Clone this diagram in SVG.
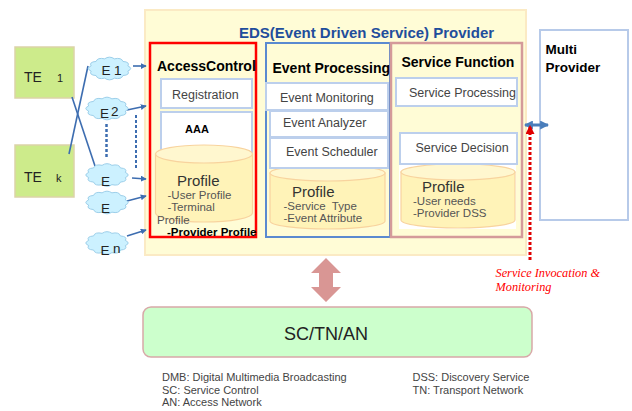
<svg xmlns="http://www.w3.org/2000/svg" width="632" height="411" viewBox="0 0 632 411">
  <defs>
    <style>
      .sans { font-family: "Liberation Sans", Arial, sans-serif; }
      .hd { font-family: "Liberation Sans", Arial, sans-serif; font-weight: bold; font-size: 14px; fill: #000; }
      .item { font-family: "Liberation Sans", Arial, sans-serif; font-size: 12.5px; fill: #444; }
      .prof { font-family: "Liberation Sans", Arial, sans-serif; font-size: 15px; fill: #333; }
      .sub { font-family: "Liberation Sans", Arial, sans-serif; font-size: 11.5px; fill: #555; }
      .inbox { fill: #fff; stroke: #BCCFEC; stroke-width: 2; }
      .cyl { fill: #FFF3B8; stroke: #F8D39E; stroke-width: 1.2; }
      .cyltop { fill: #FFF7CF; stroke: #F8D39E; stroke-width: 1.2; }
      .te { fill: #CDEB8B; stroke: #DCD3A8; stroke-width: 1.5; }
      .cloud { fill: #CCF1FF; stroke: #9CCFEA; stroke-width: 1; }
      .etxt { font-family: "Liberation Sans", Arial, sans-serif; font-size: 13.5px; fill: #222; }
      .conn { stroke: #3D6DB0; stroke-width: 1.6; fill: none; }
      .legend { font-family: "Liberation Sans", Arial, sans-serif; font-size: 11px; fill: #444; }
    </style>
    <marker id="ah" viewBox="0 0 8 8" refX="7" refY="4" markerWidth="6" markerHeight="6" markerUnits="userSpaceOnUse" orient="auto">
      <path d="M0,0 L8,4 L0,8 Z" fill="#3D6DB0"/>
    </marker>
    <marker id="ahb" viewBox="0 0 8 8" refX="7" refY="4" markerWidth="9" markerHeight="9" markerUnits="userSpaceOnUse" orient="auto-start-reverse">
      <path d="M0,0 L8,4 L0,8 Z" fill="#4A7EBB"/>
    </marker>
    <marker id="ahr" viewBox="0 0 8 8" refX="7" refY="4" markerWidth="9" markerHeight="9" markerUnits="userSpaceOnUse" orient="auto">
      <path d="M0,0 L8,4 L0,8 Z" fill="#E00000"/>
    </marker>
    <path id="cloudShape" class="cloud" d="M18.35,-2.59 Q24,0 18.35,2.59 Q20.78,6.5 13.43,7.07 Q12,11.26 4.92,9.66 Q0,13 -4.92,9.66 Q-12,11.26 -13.43,7.07 Q-20.78,6.5 -18.35,2.59 Q-24,0 -18.35,-2.59 Q-20.78,-6.5 -13.43,-7.07 Q-12,-11.26 -4.92,-9.66 Q0,-13 4.92,-9.66 Q12,-11.26 13.43,-7.07 Q20.78,-6.5 18.35,-2.59 Z"/>
  </defs>

  <rect width="632" height="411" fill="#fff"/>

  <!-- EDS provider container -->
  <g id="eds-provider">
    <rect x="145" y="10" width="381" height="245" fill="#FFFCD6" stroke="#FBEAC4" stroke-width="2"/>
    <text x="239" y="38" class="sans" font-size="15" font-weight="bold" fill="#1F4E9C">EDS(Event Driven Service) Provider</text>
  </g>

  <!-- Access Control -->
  <g id="access-control">
    <rect x="150" y="43" width="106" height="194" fill="#FFFCD6" stroke="#FF0000" stroke-width="2.5"/>
    <text x="157" y="71" class="hd">AccessControl</text>
    <rect x="161" y="79" width="91" height="29" class="inbox"/>
    <text x="172" y="99" class="item">Registration</text>
    <rect x="161" y="112" width="91" height="40" class="inbox"/>
    <text x="185" y="133" class="sans" font-size="11" font-weight="bold" fill="#000">AAA</text>
    <path d="M155.5,154 V213 A48.5,9 0 0 0 252.5,213 V154 Z" class="cyl"/>
    <ellipse cx="204" cy="154" rx="48.5" ry="9" class="cyltop"/>
    <text x="177" y="186" class="prof">Profile</text>
    <text x="167.5" y="199" class="sub">-User Profile</text>
    <text x="167.5" y="211" class="sub">-Terminal</text>
    <text x="157" y="224" class="sub">Profile</text>
    <text x="167" y="235.5" class="sans" font-size="11.5" font-weight="bold" fill="#000">-Provider Profile</text>
  </g>

  <!-- Event Processing -->
  <g id="event-processing">
    <rect x="266" y="43" width="124" height="194" fill="#FFFCD6" stroke="#5A8AD0" stroke-width="2"/>
    <text x="272.5" y="73" class="hd">Event Processing</text>
    <path d="M270,173 V221 A57.5,8 0 0 0 385,221 V173 Z" class="cyl"/>
    <ellipse cx="327.5" cy="173" rx="57.5" ry="8" class="cyltop"/>
    <rect x="266" y="83" width="122" height="27" class="inbox"/>
    <text x="280" y="102" class="item">Event Monitoring</text>
    <rect x="270" y="111" width="118" height="26" class="inbox"/>
    <text x="283" y="127" class="item">Event Analyzer</text>
    <rect x="270" y="138" width="118" height="30" class="inbox"/>
    <text x="286" y="156" class="item">Event Scheduler</text>
    <text x="292" y="197" class="prof">Profile</text>
    <text x="283.5" y="210" class="sub">-Service&#160; Type</text>
    <text x="283.5" y="222" class="sub">-Event Attribute</text>
  </g>

  <!-- Service Function -->
  <g id="service-function">
    <rect x="391" y="43" width="131" height="194" fill="#FFFCD6" stroke="#D49A9A" stroke-width="2.5"/>
    <text x="401.5" y="67" class="hd">Service Function</text>
    <rect x="399" y="165" width="117" height="64" fill="#fff"/>
    <path d="M401,172 V220 A57,8 0 0 0 515,220 V172 Z" class="cyl"/>
    <ellipse cx="458" cy="172" rx="57" ry="8" class="cyltop"/>
    <rect x="396" y="78" width="121" height="28" class="inbox"/>
    <text x="409" y="97" class="item">Service Processing</text>
    <rect x="400" y="133" width="117" height="31" class="inbox"/>
    <text x="415.5" y="151.5" class="item">Service Decision</text>
    <text x="422" y="192" class="prof">Profile</text>
    <text x="413" y="205" class="sub">-User needs</text>
    <text x="413" y="217" class="sub">-Provider DSS</text>
  </g>

  <!-- Multi Provider -->
  <g id="multi-provider">
    <rect x="540" y="30" width="88" height="190" fill="#fff" stroke="#B7CAE9" stroke-width="2"/>
    <text x="545.5" y="54" class="sans" font-size="13.5" font-weight="bold" fill="#000">Multi</text>
    <text x="545.5" y="72" class="sans" font-size="13.5" font-weight="bold" fill="#000">Provider</text>
  </g>

  <!-- Terminals -->
  <g id="te-1">
    <rect x="15" y="47" width="59" height="51" class="te"/>
    <text x="24" y="82" class="sans" font-size="14" fill="#222">TE</text>
    <text x="57" y="82" class="sans" font-size="11" fill="#222">1</text>
  </g>
  <g id="te-k">
    <rect x="15" y="145" width="59" height="52" class="te"/>
    <text x="24" y="182" class="sans" font-size="14" fill="#222">TE</text>
    <text x="56" y="182" class="sans" font-size="11" fill="#222">k</text>
  </g>

  <!-- Connectors -->
  <g id="connectors">
    <line x1="72" y1="97" x2="95" y2="166" class="conn"/>
    <line x1="69" y1="154" x2="88" y2="66" class="conn"/>
    <line x1="106.5" y1="124" x2="106.5" y2="158" stroke="#3D6DB0" stroke-width="2.5" stroke-dasharray="3,2"/>
    <line x1="136" y1="115" x2="136" y2="168" stroke="#3D6DB0" stroke-width="2" stroke-dasharray="3,2"/>
    <line x1="133" y1="66" x2="146" y2="66" class="conn" stroke-width="2" marker-end="url(#ah)"/>
    <line x1="127" y1="110" x2="146" y2="106" class="conn" stroke-width="2" marker-end="url(#ah)"/>
    <line x1="132" y1="178" x2="146" y2="179" class="conn" stroke-width="2" marker-end="url(#ah)"/>
    <line x1="127" y1="201" x2="146" y2="196" class="conn" stroke-width="2" marker-end="url(#ah)"/>
    <line x1="127" y1="236" x2="146" y2="230" class="conn" stroke-width="2" marker-end="url(#ah)"/>
    <line x1="525" y1="125" x2="548" y2="125" stroke="#4A7EBB" stroke-width="3" marker-start="url(#ahb)" marker-end="url(#ahb)"/>
    <line x1="530" y1="260" x2="530" y2="126" stroke="#E00000" stroke-width="3" stroke-dasharray="3,2" marker-end="url(#ahr)"/>
    <polygon points="326,258 341,273 333,273 333,287 341,287 326,302 311,287 319,287 319,273 311,273" fill="#D99694"/>
  </g>

  <!-- Event agents -->
  <g id="e-1">
    <use href="#cloudShape" transform="translate(109.5,68.5)"/>
    <text x="101.5" y="75" class="etxt">E</text>
    <text x="114" y="75" class="etxt" font-size="11">1</text>
  </g>
  <g id="e-2">
    <use href="#cloudShape" transform="translate(107,108.5)"/>
    <text x="100" y="117.5" class="etxt">E</text>
    <text x="111" y="116" class="etxt" font-size="11">2</text>
  </g>
  <g id="e-3">
    <use href="#cloudShape" transform="translate(107,175)"/>
    <text x="101" y="186" class="etxt">E</text>
  </g>
  <g id="e-4">
    <use href="#cloudShape" transform="translate(107,202.5)"/>
    <text x="101" y="213" class="etxt">E</text>
  </g>
  <g id="e-n">
    <use href="#cloudShape" transform="translate(107,243)"/>
    <text x="100.5" y="255" class="etxt">E</text>
    <text x="113" y="253" class="etxt" font-size="11">n</text>
  </g>

  <!-- Network layer -->
  <g id="sc-tn-an">
    <rect x="143" y="307" width="389" height="50" rx="8" fill="#CCFFCC" stroke="#D8A8A8" stroke-width="1.5"/>
    <text x="326" y="340" text-anchor="middle" class="sans" font-size="18" fill="#222">SC/TN/AN</text>
  </g>

  <g id="invocation-label">
    <text x="495.5" y="277" font-family="Liberation Serif, 'Times New Roman', serif" font-style="italic" font-size="12.3" fill="#FF0000">Service Invocation &amp;</text>
    <text x="495.5" y="290.5" font-family="Liberation Serif, 'Times New Roman', serif" font-style="italic" font-size="12.3" fill="#FF0000">Monitoring</text>
  </g>

  <!-- Abbreviations -->
  <g id="legend">
    <text x="162" y="381" class="legend">DMB: Digital Multimedia Broadcasting</text>
    <text x="162" y="394" class="legend">SC: Service Control</text>
    <text x="162" y="406" class="legend">AN: Access Network</text>
    <text x="412.5" y="381" class="legend">DSS: Discovery Service</text>
    <text x="412.5" y="394" class="legend">TN: Transport Network</text>
  </g>
</svg>
